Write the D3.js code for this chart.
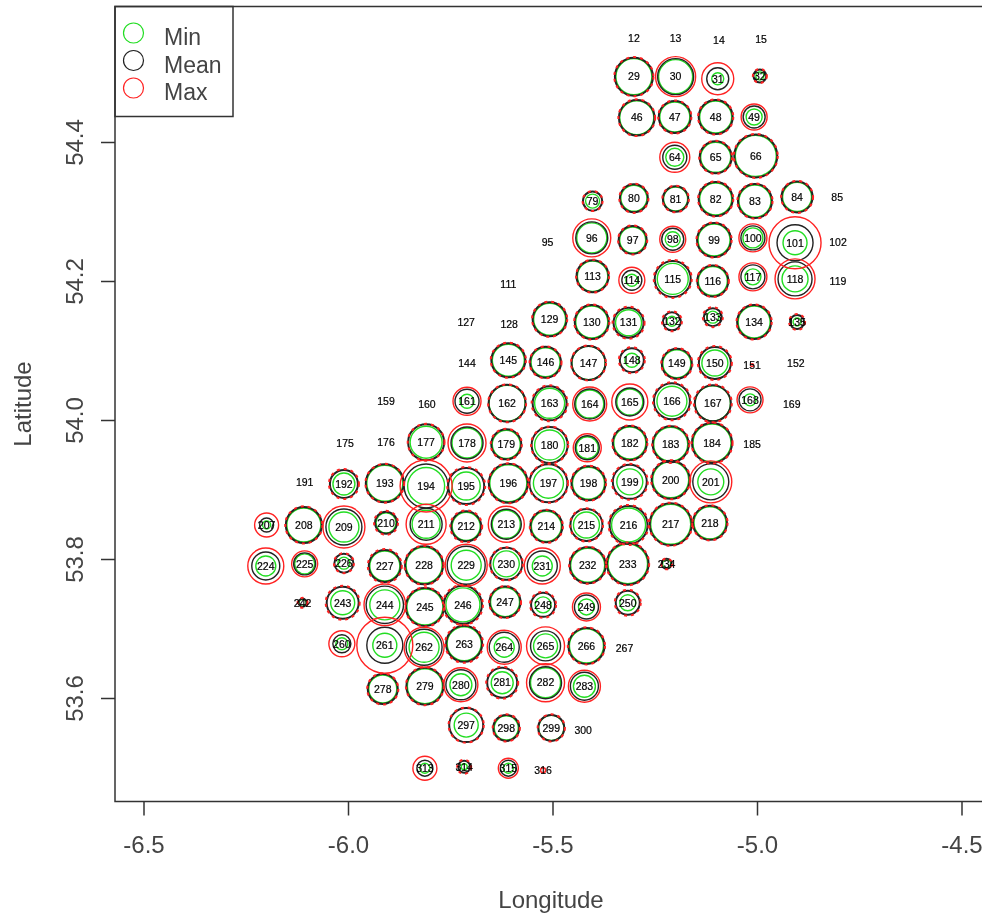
<!DOCTYPE html>
<html>
<head>
<meta charset="utf-8">
<script src="https://cdn.jsdelivr.net/npm/d3@7"></script>
<style>
  html, body { margin: 0; padding: 0; background: #fff; overflow: hidden; }
  text { font-family: "Liberation Sans", Arial, sans-serif; }
  svg { filter: blur(0.35px); }
</style>
</head>
<body>
<div id="chart"></div>
<script>
// grid cell numbers
const cellIds = [12,13,14,15,29,30,31,32,46,47,48,49,64,65,66,79,80,81,82,83,84,85,
  95,96,97,98,99,100,101,102,111,113,114,115,116,117,118,119,
  127,128,129,130,131,132,133,134,135,144,145,146,147,148,149,150,151,152,
  159,160,161,162,163,164,165,166,167,168,169,175,176,177,178,179,180,181,182,183,184,185,
  191,192,193,194,195,196,197,198,199,200,201,207,208,209,210,211,212,213,214,215,216,217,218,
  224,225,226,227,228,229,230,231,232,233,234,242,243,244,245,246,247,248,249,250,
  260,261,262,263,264,265,266,267,278,279,280,281,282,283,297,298,299,300,313,314,315,316];

const longitudes = [-5.301,-5.199,-5.093,-4.990,-5.301,-5.199,-5.096,-4.993,-5.294,-5.201,-5.101,-5.007,-5.201,-5.101,-5.003,-5.402,-5.301,-5.199,-5.101,-5.005,-4.902,-4.804,
  -5.512,-5.404,-5.304,-5.206,-5.105,-5.010,-4.907,-4.802,-5.608,-5.402,-5.306,-5.206,-5.108,-5.010,-4.907,-4.802,
  -5.711,-5.606,-5.507,-5.404,-5.314,-5.208,-5.108,-5.007,-4.902,-5.709,-5.608,-5.517,-5.412,-5.306,-5.196,-5.103,-5.012,-4.905,
  -5.907,-5.807,-5.709,-5.611,-5.507,-5.409,-5.311,-5.208,-5.108,-5.017,-4.915,-6.007,-5.907,-5.809,-5.709,-5.613,-5.507,-5.415,-5.311,-5.211,-5.110,-5.012,
  -6.106,-6.010,-5.910,-5.809,-5.711,-5.608,-5.510,-5.412,-5.311,-5.211,-5.113,-6.199,-6.108,-6.010,-5.907,-5.809,-5.711,-5.613,-5.515,-5.417,-5.314,-5.211,-5.115,
  -6.201,-6.106,-6.010,-5.910,-5.814,-5.711,-5.613,-5.525,-5.414,-5.316,-5.221,-6.111,-6.013,-5.910,-5.812,-5.719,-5.616,-5.523,-5.417,-5.316,
  -6.015,-5.910,-5.814,-5.716,-5.618,-5.517,-5.417,-5.324,-5.915,-5.812,-5.724,-5.623,-5.517,-5.422,-5.711,-5.613,-5.503,-5.425,-5.812,-5.716,-5.608,-5.523];

const latitudes = [54.550,54.550,54.547,54.548,54.494,54.494,54.491,54.495,54.435,54.436,54.436,54.436,54.378,54.378,54.380,54.315,54.319,54.318,54.318,54.315,54.321,54.321,
  54.256,54.262,54.259,54.260,54.259,54.262,54.255,54.256,54.196,54.207,54.201,54.203,54.200,54.206,54.203,54.200,
  54.141,54.138,54.145,54.141,54.140,54.142,54.148,54.141,54.141,54.081,54.086,54.083,54.082,54.086,54.081,54.082,54.079,54.082,
  54.027,54.023,54.027,54.024,54.024,54.023,54.026,54.027,54.024,54.029,54.023,53.967,53.968,53.968,53.967,53.965,53.964,53.960,53.967,53.965,53.967,53.965,
  53.911,53.908,53.909,53.905,53.905,53.909,53.909,53.909,53.911,53.914,53.911,53.849,53.849,53.846,53.852,53.850,53.847,53.850,53.847,53.849,53.849,53.850,53.852,
  53.790,53.793,53.794,53.790,53.791,53.791,53.793,53.790,53.791,53.793,53.793,53.737,53.737,53.734,53.731,53.734,53.738,53.734,53.731,53.737,
  53.678,53.676,53.673,53.678,53.673,53.675,53.675,53.672,53.613,53.617,53.619,53.622,53.622,53.617,53.561,53.557,53.557,53.554,53.499,53.501,53.499,53.496];

// 0 = nothing drawn in that cell
const minValues = [0,0,0,0,18,17,6,4,17,15,16,8,9,15,20.5,7,13,12,16,16,14.5,0,
  0,15,13,7.5,16,10,12,0,0,15.2,6,15.5,14.5,8,13,0,
  0,0,16,16,13,5,6,16,4,0,16,14.5,16.6,7,14,13,0,0,
  0,0,7,18,15,14,13,15,17.6,6,0,0,0,16,15,14,15,11,16,17,19,0,
  0,11,18,18.5,14,18.5,15,16,13,18,13,4,17,15,10,14,14,14,15,13,17,20,16,
  10,10,6,15,18,15,13,10,17,19.8,4,3.5,12,15,18,17,14.5,8,8,8,
  6,12,15,17,10,12,17,0,14,17.5,11,11,15,11,12,12,12.6,0,5,3,5,0];

const meanValues = [0,0,0,0,19,18,11,6.4,17.8,16,17,11,12,16,21.5,9.6,14,12.7,17,17,15.5,0,
  0,16,14,11,17,12,18,0,0,16,10,18,15.5,12,17,0,
  0,0,17,17,15,9,9,17,7,0,17,15.5,17,12,15,16,0,0,
  0,0,12,18.5,17,15,14,18,18,11,0,0,0,18,16,15,18,12,17,18,20,0,
  0,14,19,22,18,19.5,19,17,17,19,18,7,18,18,11,16,15,15,16,16,19,21,17,
  14,11,9.5,16,19,19,16,15,18,20.8,5,4,16,18.7,19,19,15.5,12,12,12,
  9,18,18,18,15,15,18,0,15,18.5,15,15,16,14,17,13,13,0,8,6,8,0];

const maxValues = [0,0,0,0,19.6,20,16,7,18.4,16.6,17.6,13,15,16.5,22,10,14.6,13.3,17.6,17.6,16,0,
  0,19,14.6,13,17.6,14,26,0,0,16.5,13,19,16,14,20,0,
  0,0,17.6,17.6,16,10,10,17.6,8,0,17.6,16,17.5,13,15.6,17,1.5,0,
  0,0,14,19,18,17,18,19,19,13,0,0,0,18.4,19,15.6,18.6,14,17.6,18.6,20.6,0,
  0,15,19.4,26,19,20,19.6,17.6,18,19.6,21,12,18.6,21,12,20,16,18,16.6,16.6,20,21.6,17.6,
  18,13,10,17,19.6,21,16.6,18,18.6,21.4,5.5,5,17,20.8,19.6,20,16,13,14,13,
  13,28,20,19,17,19,18.6,0,15.6,19,17,16,19,16,17.6,13.6,13.6,0,12,7,10,2.5];

const legendLabels = ["Min", "Mean", "Max"];
const legendColors = ["#22dd22", "#222222", "#ff2222"];
const xTicks = [-6.5, -6.0, -5.5, -5.0, -4.5];
const yTicks = [53.6, 53.8, 54.0, 54.2, 54.4];

const width = 982, height = 918;
const box = {left: 115, top: 6.5, bottom: 801.5};

const x = d3.scaleLinear().domain([-6.5, -4.5]).range([143.5, 961.5]);
const y = d3.scaleLinear().domain([53.6, 54.4]).range([698, 142]);
const r = d3.scaleLinear().domain([0, 30]).range([0, 30]);

const svg = d3.select("#chart").append("svg")
    .attr("width", width)
    .attr("height", height)
    .style("display", "block");

// plot frame, runs off the right edge
svg.append("rect")
    .attr("x", box.left)
    .attr("y", box.top)
    .attr("width", width)
    .attr("height", box.bottom - box.top)
    .attr("fill", "none")
    .attr("stroke", "#333")
    .attr("stroke-width", 1.5);

// axes
const tickText = d => d.toFixed(1);  // plain hyphen, as R writes it

const xAxis = svg.append("g")
    .attr("transform", `translate(0,${box.bottom})`)
    .call(d3.axisBottom(x).tickValues(xTicks).tickFormat(tickText).tickSize(14).tickSizeOuter(0));

const yAxis = svg.append("g")
    .attr("transform", `translate(${box.left},0)`)
    .call(d3.axisLeft(y).tickValues(yTicks).tickFormat(tickText).tickSize(14).tickSizeOuter(0));

xAxis.select(".domain").remove();
yAxis.select(".domain").remove();

[xAxis, yAxis].forEach(a => {
    a.selectAll("line").attr("stroke", "#333").attr("stroke-width", 1.5);
    a.selectAll("text").attr("fill", "#444").style("font-size", "24px");
});

xAxis.selectAll("text").attr("y", 44).attr("dy", "0.32em");

yAxis.selectAll("text")
    .attr("x", 0)
    .attr("y", 0)
    .attr("dy", 0)
    .attr("text-anchor", "middle")
    .attr("transform", "translate(-32,0) rotate(-90)");

svg.append("text")
    .attr("x", 551)
    .attr("y", 908)
    .attr("text-anchor", "middle")
    .attr("fill", "#444")
    .style("font-size", "24px")
    .text("Longitude");

svg.append("text")
    .attr("transform", "translate(31,404) rotate(-90)")
    .attr("text-anchor", "middle")
    .attr("fill", "#444")
    .style("font-size", "24px")
    .text("Latitude");

// circles: all min first, then mean, then max, labels on top
const cells = cellIds.map((id, i) => ({
    id: id, lon: longitudes[i], lat: latitudes[i],
    min: minValues[i], mean: meanValues[i], max: maxValues[i]
}));

const nearMean = d => d.max - d.mean < 1.2;

["min", "mean", "max"].forEach((key, k) => {
    svg.append("g")
        .selectAll("circle")
        .data(cells.filter(d => d[key] > 0))
        .enter()
        .append("circle")
        .attr("cx", d => x(d.lon))
        .attr("cy", d => y(d.lat))
        .attr("r", d => r(d[key]))
        .attr("fill", "none")
        .attr("stroke", legendColors[k])
        .attr("stroke-width", d => key !== "min" && nearMean(d) ? 2 : 1.4)
        // a max ring sitting on the mean ring only shows as red bumps
        .attr("stroke-dasharray", d => key === "max" && nearMean(d) ? "3 4" : null);
});

svg.append("g")
    .selectAll("text")
    .data(cells)
    .enter()
    .append("text")
    .attr("x", d => x(d.lon))
    .attr("y", d => y(d.lat))
    .attr("dy", "0.36em")
    .attr("text-anchor", "middle")
    .attr("fill", "#000")
    .attr("stroke", "#000")
    .attr("stroke-width", 0.2)
    .style("font-size", "10.5px")
    .text(d => d.id);

// legend
const legend = svg.append("g");

legend.append("rect")
    .attr("x", box.left)
    .attr("y", box.top)
    .attr("width", 118)
    .attr("height", 110)
    .attr("fill", "none")
    .attr("stroke", "#333")
    .attr("stroke-width", 1.5);

legendLabels.forEach((label, i) => {
    const rowY = 33 + i * 27.5;
    legend.append("circle")
        .attr("cx", 133.5)
        .attr("cy", rowY)
        .attr("r", 10)
        .attr("fill", "none")
        .attr("stroke", legendColors[i])
        .attr("stroke-width", 1.2);
    legend.append("text")
        .attr("x", 164)
        .attr("y", rowY + 12)
        .attr("fill", "#444")
        .style("font-size", "23px")
        .text(label);
});
</script>
</body>
</html>
